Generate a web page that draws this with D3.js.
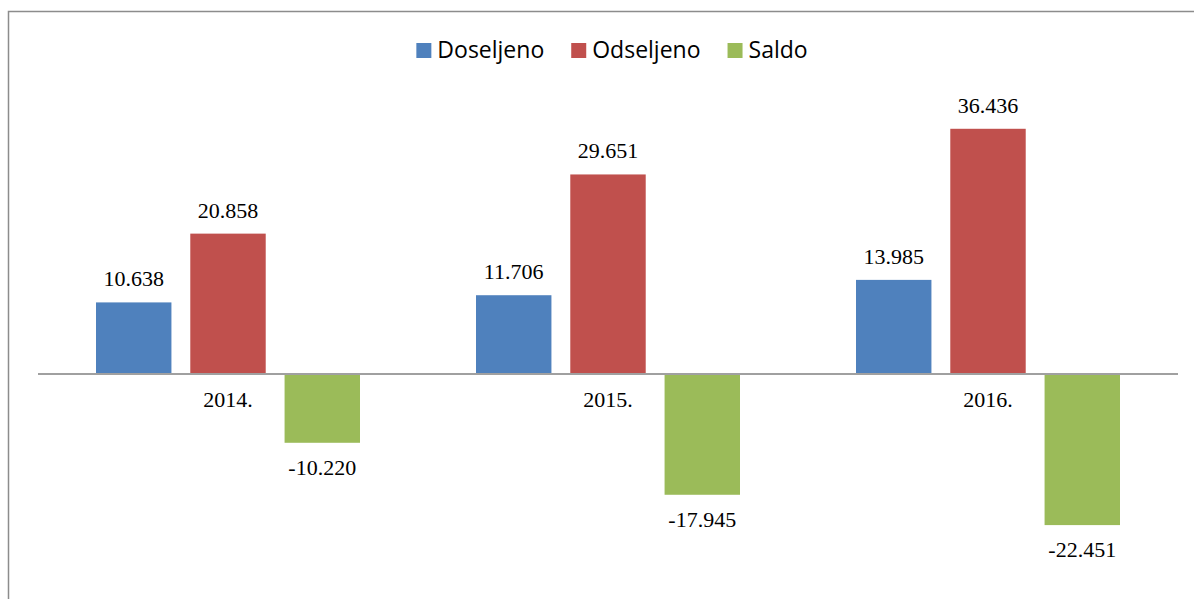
<!DOCTYPE html>
<html>
<head>
<meta charset="utf-8">
<script src="https://cdn.jsdelivr.net/npm/d3@7"></script>
<style>
  body { margin: 0; background: #fff; }
  .val, .cat { font-family: "Liberation Serif", serif; font-size: 22px; fill: #000; }
  .leg { font-family: "Open Sans", sans-serif; font-size: 23px; fill: #000; }
</style>
</head>
<body>
<script>
// data
var years = ["2014.", "2015.", "2016."]
var series = ["Doseljeno", "Odseljeno", "Saldo"]
var doseljeno = [10.638, 11.706, 13.985]
var odseljeno = [20.858, 29.651, 36.436]
var saldo = [-10.220, -17.945, -22.451]
var colors = ["#4F81BD", "#C0504D", "#9BBB59"]

var values = [doseljeno, odseljeno, saldo]

var W = 1194, H = 599

var svg = d3.select("body").append("svg")
    .attr("width", W)
    .attr("height", H)

// outer frame (right and bottom fall outside the picture)
svg.append("rect")
    .attr("x", 8.5).attr("y", 11.5)
    .attr("width", 1200).attr("height", 600)
    .attr("fill", "none")
    .attr("stroke", "#8c8c8c")
    .attr("stroke-width", 1.5)

// scales
var x0 = d3.scaleBand().domain(years).range([38, 1178]).paddingInner(0).paddingOuter(0)
var x1 = d3.scaleBand().domain(series).range([58, 322]).paddingInner(0.2)
var y = d3.scaleLinear().domain([-30, 40]).range([575.9, 104.8])

var fmt = d3.format(",.3f")
function label(v) {
  // 10.638 style: period as thousands separator
  return (v < 0 ? "-" : "") + fmt(Math.abs(v)).replace(".", ",").replace(",", ".")
}

var groups = svg.selectAll(".grp")
    .data(years)
  .enter().append("g")
    .attr("class", "grp")
    .attr("transform", function(d) { return "translate(" + x0(d) + ",0)" })

series.forEach(function(s, si) {
  groups.append("rect")
      .attr("x", x1(s))
      .attr("width", x1.bandwidth())
      .attr("y", function(d, i) { return y(Math.max(0, values[si][i])) })
      .attr("height", function(d, i) { return Math.abs(y(values[si][i]) - y(0)) })
      .attr("fill", colors[si])

  groups.append("text")
      .attr("class", "val")
      .attr("text-anchor", "middle")
      .attr("x", x1(s) + x1.bandwidth() / 2)
      .attr("y", function(d, i) {
        var v = values[si][i]
        return v >= 0 ? y(v) - 16 : y(v) + 32
      })
      .text(function(d, i) { return label(values[si][i]) })
})

// zero line
svg.append("line")
    .attr("x1", 38).attr("x2", 1178)
    .attr("y1", y(0)).attr("y2", y(0))
    .attr("stroke", "#a0a0a0")
    .attr("stroke-width", 2)

// category labels
svg.selectAll(".cat")
    .data(years)
  .enter().append("text")
    .attr("class", "cat")
    .attr("text-anchor", "middle")
    .attr("x", function(d) { return x0(d) + x0.bandwidth() / 2 })
    .attr("y", y(0) + 33)
    .text(function(d) { return d })

// legend
var legend = svg.append("g")
var lx = 0
series.forEach(function(s, i) {
  var g = legend.append("g").attr("transform", "translate(" + lx + ",0)")
  g.append("rect").attr("x", 0).attr("y", 43).attr("width", 15).attr("height", 15).attr("fill", colors[i])
  var t = g.append("text").attr("class", "leg").attr("x", 21).attr("y", 58).text(s)
  lx += 21 + t.node().getComputedTextLength() + 27
})
var legW = lx - 27
legend.attr("transform", "translate(" + (612 - legW / 2) + ",0)")
</script>
</body>
</html>
